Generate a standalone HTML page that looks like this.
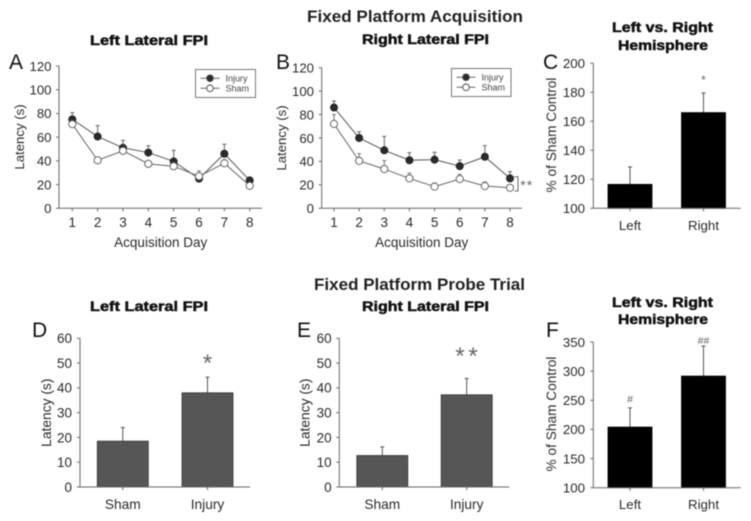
<!DOCTYPE html>
<html lang="en">
<head>
<meta charset="utf-8">
<title>Fixed Platform Acquisition and Probe Trial</title>
<style>
html,body{margin:0;padding:0;background:#fff;width:751px;height:521px;overflow:hidden}
svg{display:block;filter:blur(.45px)}
text{font-family:"Liberation Sans",Arial,sans-serif;fill:#2a2a2a}
.main{font-size:17px;font-weight:bold;stroke:none;fill:#222}
.sub{font-size:13.5px;font-weight:bold;fill:#111;stroke:#111;stroke-width:.5px}
.letter{font-size:21px;fill:#111}
</style>
</head>
<body>
<svg id="figure" xmlns="http://www.w3.org/2000/svg" width="751" height="521" viewBox="0 0 751 521">
  <text class="main" x="307" y="22" textLength="216" lengthAdjust="spacingAndGlyphs">Fixed Platform Acquisition</text>
  <text class="main" x="314" y="290" textLength="211" lengthAdjust="spacingAndGlyphs">Fixed Platform Probe Trial</text>

  <text class="sub" x="90" y="45" textLength="118" lengthAdjust="spacingAndGlyphs">Left Lateral FPI</text>
  <text class="sub" x="362" y="44" textLength="127" lengthAdjust="spacingAndGlyphs">Right Lateral FPI</text>
  <text class="sub" x="612" y="32" textLength="101" lengthAdjust="spacingAndGlyphs">Left vs. Right</text>
  <text class="sub" x="618" y="50" textLength="90" lengthAdjust="spacingAndGlyphs">Hemisphere</text>
  <text class="sub" x="90" y="311" textLength="118" lengthAdjust="spacingAndGlyphs">Left Lateral FPI</text>
  <text class="sub" x="362" y="311" textLength="127" lengthAdjust="spacingAndGlyphs">Right Lateral FPI</text>
  <text class="sub" x="612" y="307" textLength="101" lengthAdjust="spacingAndGlyphs">Left vs. Right</text>
  <text class="sub" x="618" y="324" textLength="90" lengthAdjust="spacingAndGlyphs">Hemisphere</text>

  <text class="letter" x="9" y="69">A</text>
  <text class="letter" x="276" y="69">B</text>
  <text class="letter" x="543" y="69">C</text>
  <text class="letter" x="32" y="337">D</text>
  <text class="letter" x="297" y="337">E</text>
  <text class="letter" x="546" y="337">F</text>
</svg>
<script>
const days = [1, 2, 3, 4, 5, 6, 7, 8];
const latencyTicksLine = [0, 20, 40, 60, 80, 100, 120];
const panelAInjury = [75, 60.5, 51, 47, 39.5, 25, 46, 23.5];
const panelAInjuryTop = [80.6, 69.7, 57.3, 52.8, 48.9, 28, 54, 26];
const panelASham = [71, 40.5, 48.5, 37.5, 35.5, 27, 38, 19];
const panelAShamTop = [74, 42, 51, 40, 37, 31.5, 41, 21];
const panelBInjury = [86, 60, 49.5, 41, 41.5, 36, 44, 25.5];
const panelBInjuryTop = [91.6, 65.4, 61.4, 47.5, 47.8, 41.2, 53.5, 31.3];
const panelBSham = [72, 40.5, 33.5, 25.5, 18.5, 25, 19, 17.5];
const panelBShamTop = [80, 46.6, 40.7, 30, 21.6, 29, 22.5, 20];

const hemiCategories = ['Left', 'Right'];
const groupCategories = ['Sham', 'Injury'];
const hemiTicksC = [100, 120, 140, 160, 180, 200];
const latencyTicksBar = [0, 10, 20, 30, 40, 50, 60];
const hemiTicksF = [100, 150, 200, 250, 300, 350];
const panelCValues = [116.5, 166];
const panelCTops = [128.5, 179.5];
const panelDValues = [18.5, 38];
const panelDTops = [24, 44.3];
const panelEValues = [12.7, 37.2];
const panelETops = [16.2, 43.8];
const panelFValues = [204, 291.5];
const panelFTops = [237, 343];

const NS = 'http://www.w3.org/2000/svg';
const figure = document.getElementById('figure');

function mk(parent, tag, name, attrs, txt) {
  const el = document.createElementNS(NS, tag);
  
  
  for (const k in attrs) el.setAttribute(k, attrs[k]);
  if (txt !== undefined) el.textContent = txt;
  parent.appendChild(el);
  return el;
}

function linear(d0, d1, r0, r1) {
  return v => r0 + (v - d0) * (r1 - r0) / (d1 - d0);
}

function yAxis(g, prefix, ticks, y, axisX, labelX, fontSize) {
  mk(g, 'line', prefix + '-y-axis', {x1: axisX, x2: axisX, y1: y(ticks[ticks.length - 1]), y2: y(ticks[0]), stroke: '#666', 'stroke-width': 1});
  ticks.forEach(t => {
    mk(g, 'line', prefix + '-y-tick', {x1: axisX - 3, x2: axisX, y1: y(t), y2: y(t), stroke: '#666', 'stroke-width': 1});
    mk(g, 'text', prefix + '-y-tick-label', {x: labelX, y: y(t) + fontSize * 0.36, 'text-anchor': 'end', 'font-size': fontSize}, t);
  });
}

function yTitle(g, prefix, label, x, cy, fontSize) {
  mk(g, 'text', prefix + '-y-axis-title', {transform: 'translate(' + x + ',' + cy + ') rotate(-90)', 'text-anchor': 'middle', 'font-size': fontSize}, label);
}

function errorBar(g, prefix, x, yFrom, yTo, w, colour) {
  mk(g, 'line', prefix + '-error-stem', {x1: x, x2: x, y1: yFrom, y2: yTo, stroke: colour, 'stroke-width': 1});
  mk(g, 'line', prefix + '-error-cap', {x1: x - w, x2: x + w, y1: yTo, y2: yTo, stroke: colour, 'stroke-width': 1});
}

function linePanel(p) {
  const g = mk(figure, 'g', p.id, {});
  const y = linear(0, 120, p.y0, p.yTop);
  const x = linear(1, 8, p.x1, p.x8);
  yAxis(g, p.id, latencyTicksLine, y, p.axisX, p.labelX, 13.2);
  mk(g, 'line', p.id + '-x-axis', {x1: p.axisX, x2: p.axisEnd, y1: p.y0, y2: p.y0, stroke: '#666', 'stroke-width': 1});
  days.forEach(d => {
    mk(g, 'line', p.id + '-x-tick', {x1: x(d), x2: x(d), y1: p.y0, y2: p.y0 + 3, stroke: '#666', 'stroke-width': 1});
    mk(g, 'text', p.id + '-x-tick-label', {x: x(d), y: 227, 'text-anchor': 'middle', 'font-size': 13.5}, d);
  });
  mk(g, 'text', p.id + '-x-axis-title', {x: p.xTitleX, y: 247, 'text-anchor': 'middle', 'font-size': 13.5}, 'Acquisition Day');
  yTitle(g, p.id, 'Latency (s)', p.yTitleX, p.yTitleY, 13.2);

  days.forEach((d, i) => errorBar(g, p.id + '-injury', x(d), y(p.injury[i]), y(p.injuryTop[i]), 2, '#666'));
  days.forEach((d, i) => errorBar(g, p.id + '-sham', x(d), y(p.sham[i]), y(p.shamTop[i]), 2, '#777'));

  const pts = a => a.map((v, i) => x(days[i]) + ',' + y(v)).join(' ');
  mk(g, 'polyline', p.id + '-injury-line', {points: pts(p.injury), fill: 'none', stroke: '#555', 'stroke-width': 1});
  mk(g, 'polyline', p.id + '-sham-line', {points: pts(p.sham), fill: 'none', stroke: '#666', 'stroke-width': 1});
  p.injury.forEach((v, i) => {
    mk(g, 'circle', p.id + '-injury-point', {cx: x(days[i]), cy: y(v), r: 3.6, fill: '#2b2b2b', stroke: '#222', 'stroke-width': .8});
  });
  p.sham.forEach((v, i) => {
    mk(g, 'circle', p.id + '-sham-point', {cx: x(days[i]), cy: y(v), r: 3.6, fill: '#fff', stroke: '#555', 'stroke-width': .9});
  });

  const l = mk(g, 'g', p.id + '-legend', {});
  mk(l, 'rect', p.id + '-legend-box', {x: p.lx, y: p.ly, width: p.lw, height: 28, fill: '#fff', stroke: '#777', 'stroke-width': 1});
  const mx = p.lx + 14.5;
  [['injury', 'Injury', 8.7, '#2b2b2b'], ['sham', 'Sham', 18.8, '#fff']].forEach(e => {
    const ey = p.ly + e[2];
    mk(l, 'line', p.id + '-legend-' + e[0] + '-line', {x1: mx - 9.5, x2: mx + 9.5, y1: ey, y2: ey, stroke: '#666', 'stroke-width': 1});
    mk(l, 'circle', p.id + '-legend-' + e[0] + '-marker', {cx: mx, cy: ey, r: 3.3, fill: e[3], stroke: '#444', 'stroke-width': .9});
    mk(l, 'text', p.id + '-legend-' + e[0] + '-label', {x: mx + 15.5, y: ey + 3.2, 'font-size': 9, style: 'fill:#444'}, e[1]);
  });
}

function barPanel(p) {
  const g = mk(figure, 'g', p.id, {});
  const t = p.ticks;
  const y = linear(t[0], t[t.length - 1], p.y0, p.yTop);
  yAxis(g, p.id, t, y, p.axisX, p.labelX, p.tickFont);
  yTitle(g, p.id, p.yLabel, p.yTitleX, p.yTitleY, p.titleFont);
  p.values.forEach((v, i) => {
    const c = p.centers[i];
    errorBar(g, p.id + '-bar-' + i, c, y(v), y(p.tops[i]), 2, '#555');
    mk(g, 'rect', p.id + '-bar-' + p.cats[i].toLowerCase(), {x: c - p.barW / 2, y: y(v), width: p.barW, height: p.y0 - y(v), fill: p.fill, stroke: p.stroke, 'stroke-width': .8});
    mk(g, 'line', p.id + '-x-tick', {x1: c, x2: c, y1: p.y0, y2: p.y0 + 3, stroke: '#666', 'stroke-width': 1});
    mk(g, 'text', p.id + '-x-label', {x: c, y: p.catY, 'text-anchor': 'middle', 'font-size': p.catFont}, p.cats[i]);
  });
  mk(g, 'line', p.id + '-x-axis', {x1: p.axisX, x2: p.axisEnd, y1: p.y0, y2: p.y0, stroke: '#666', 'stroke-width': 1});
}

linePanel({id: 'panel-a', y0: 208.3, yTop: 66, x1: 72.3, x8: 249.7, axisX: 59, axisEnd: 262, labelX: 51.5, xTitleX: 160.7, yTitleX: 24, yTitleY: 137,
  injury: panelAInjury, injuryTop: panelAInjuryTop, sham: panelASham, shamTop: panelAShamTop, lx: 195.5, ly: 69.5, lw: 60});
linePanel({id: 'panel-b', y0: 208.3, yTop: 67.7, x1: 334, x8: 510, axisX: 321.7, axisEnd: 522, labelX: 314, xTitleX: 421.7, yTitleX: 286, yTitleY: 138,
  injury: panelBInjury, injuryTop: panelBInjuryTop, sham: panelBSham, shamTop: panelBShamTop, lx: 451.5, ly: 68.5, lw: 59.5});

barPanel({id: 'panel-c', ticks: hemiTicksC, values: panelCValues, tops: panelCTops, cats: hemiCategories, y0: 208.3, yTop: 63.3, axisX: 593.3, axisEnd: 740.7, labelX: 585, centers: [630, 703.5], barW: 44, fill: '#000', stroke: '#000', catY: 230, catFont: 13.3, tickFont: 13.3, titleFont: 13.7, yLabel: '% of Sham Control', yTitleX: 556, yTitleY: 135});
barPanel({id: 'panel-d', ticks: latencyTicksBar, values: panelDValues, tops: panelDTops, cats: groupCategories, y0: 487, yTop: 338.3, axisX: 80, axisEnd: 250, labelX: 72, centers: [122.8, 207.5], barW: 51, fill: '#565656', stroke: '#333', catY: 509, catFont: 13.7, tickFont: 13.5, titleFont: 13.8, yLabel: 'Latency (s)', yTitleX: 51, yTitleY: 412.7});
barPanel({id: 'panel-e', ticks: latencyTicksBar, values: panelEValues, tops: panelETops, cats: groupCategories, y0: 487, yTop: 338.3, axisX: 339.3, axisEnd: 509.3, labelX: 331.7, centers: [382.3, 466.7], barW: 51, fill: '#565656', stroke: '#333', catY: 509, catFont: 13.7, tickFont: 13.5, titleFont: 13.8, yLabel: 'Latency (s)', yTitleX: 309.5, yTitleY: 412.7});
barPanel({id: 'panel-f', ticks: hemiTicksF, values: panelFValues, tops: panelFTops, cats: hemiCategories, y0: 487.7, yTop: 342, axisX: 593.3, axisEnd: 740.7, labelX: 585, centers: [630, 703.5], barW: 44, fill: '#000', stroke: '#000', catY: 509, catFont: 13.3, tickFont: 13.3, titleFont: 13.7, yLabel: '% of Sham Control', yTitleX: 556, yTitleY: 414});

function mark(name, x, y, size, txt) {
  mk(figure, 'text', name, {x: x, y: y, 'text-anchor': 'middle', 'font-size': size, style: 'fill:#666'}, txt);
}
mark('panel-b-significance-1', 523, 190, 14, '*');
mark('panel-b-significance-2', 529.5, 190, 14, '*');
mk(figure, 'path', 'panel-b-significance-bracket', {d: 'M514.5 176.7H518V191H514.5', fill: 'none', stroke: '#666', 'stroke-width': 1});
mark('panel-c-significance', 703.5, 84, 12, '*');
mark('panel-d-significance', 207.5, 371, 24, '*');
mark('panel-e-significance-1', 460, 364, 24, '*');
mark('panel-e-significance-2', 473, 364, 24, '*');
mark('panel-f-significance-left', 630, 402.5, 10.5, '#');
mark('panel-f-significance-right', 703.5, 344, 10.5, '##');
</script>
</body>
</html>
